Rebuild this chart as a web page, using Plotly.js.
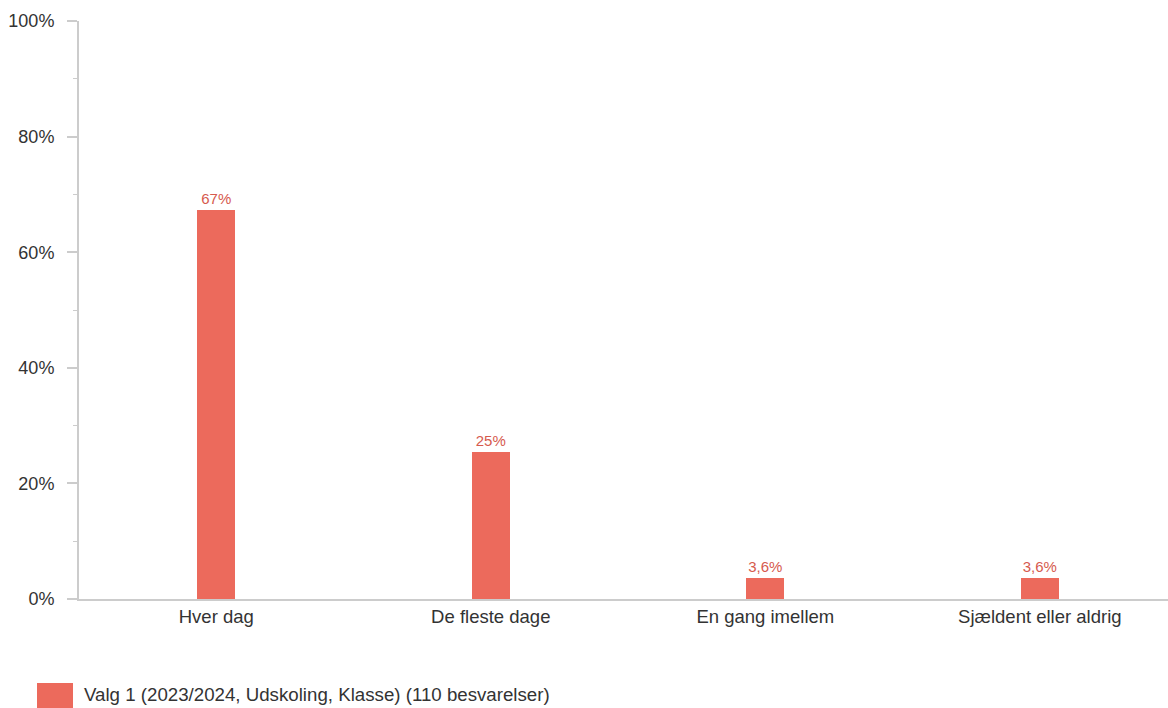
<!DOCTYPE html>
<html>
<head>
<meta charset="utf-8">
<script src="https://cdn.plot.ly/plotly-3.0.1.min.js"></script>
<style>html,body{margin:0;padding:0;background:#fff;}#chart{width:1168px;height:708px;}</style>
</head>
<body>
<div id="chart"></div>
<script>
const categories = ["Hver dag", "De fleste dage", "En gang imellem", "Sjældent eller aldrig"];
const values = [67.27, 25.45, 3.64, 3.64];
const valueLabels = ["67%", "25%", "3,6%", "3,6%"];
const seriesName = "Valg 1 (2023/2024, Udskoling, Klasse) (110 besvarelser)";
const yTickVals = [0, 20, 40, 60, 80, 100];
const yTickText = ["0%", "20%", "40%", "60%", "80%", "100%"];

const barColor = "#EC6A5C";
const font = "Liberation Sans, Arial, sans-serif";

const trace = {
  type: "bar",
  x: [0, 1, 2, 3],
  y: values,
  width: 0.138,
  marker: {color: barColor},
  text: valueLabels,
  textposition: "outside",
  cliponaxis: false,
  textfont: {family: font, size: 15, color: "#D65A4E"},
  name: seriesName,
  hoverinfo: "skip",
  showlegend: false
};

const layout = {
  width: 1168, height: 708,
  margin: {l: 79, r: 0, t: 21, b: 109},
  paper_bgcolor: "#fff", plot_bgcolor: "#fff",
  font: {family: font, size: 18.5, color: "#333"},
  bargap: 0,
  xaxis: {
    range: [-0.5, 3.467],
    tickvals: [0, 1, 2, 3],
    ticktext: categories,
    showgrid: false, zeroline: false,
    showline: true, linecolor: "#ccc", linewidth: 2,
    ticks: "", tickfont: {size: 18.5, color: "#333"},
    fixedrange: true
  },
  yaxis: {
    range: [0, 100],
    tickvals: yTickVals,
    ticktext: yTickText,
    showgrid: false, zeroline: false,
    showline: true, linecolor: "#ccc", linewidth: 2,
    ticks: "outside", ticklen: 10, tickwidth: 2, tickcolor: "#ccc",
    minor: {dtick: 10, ticks: "outside", ticklen: 4, tickwidth: 1, tickcolor: "#ccc", showgrid: false},
    tickfont: {size: 18, color: "#333"},
    ticklabelstandoff: 9,
    fixedrange: true
  },
  shapes: [{
    type: "rect", xref: "paper", yref: "paper",
    x0: (37 - 79) / 1089, x1: (73 - 79) / 1089,
    y0: (599 - 708) / 578, y1: (599 - 683) / 578,
    fillcolor: barColor, line: {width: 0}
  }],
  annotations: [{
    xref: "paper", yref: "paper",
    x: (82 - 79) / 1089, y: (599 - 695) / 578,
    xanchor: "left", yanchor: "middle",
    text: seriesName, showarrow: false,
    font: {family: font, size: 18.7, color: "#333"}
  }]
};

Plotly.newPlot("chart", [trace], layout, {displayModeBar: false, staticPlot: true});
</script>
</body>
</html>
